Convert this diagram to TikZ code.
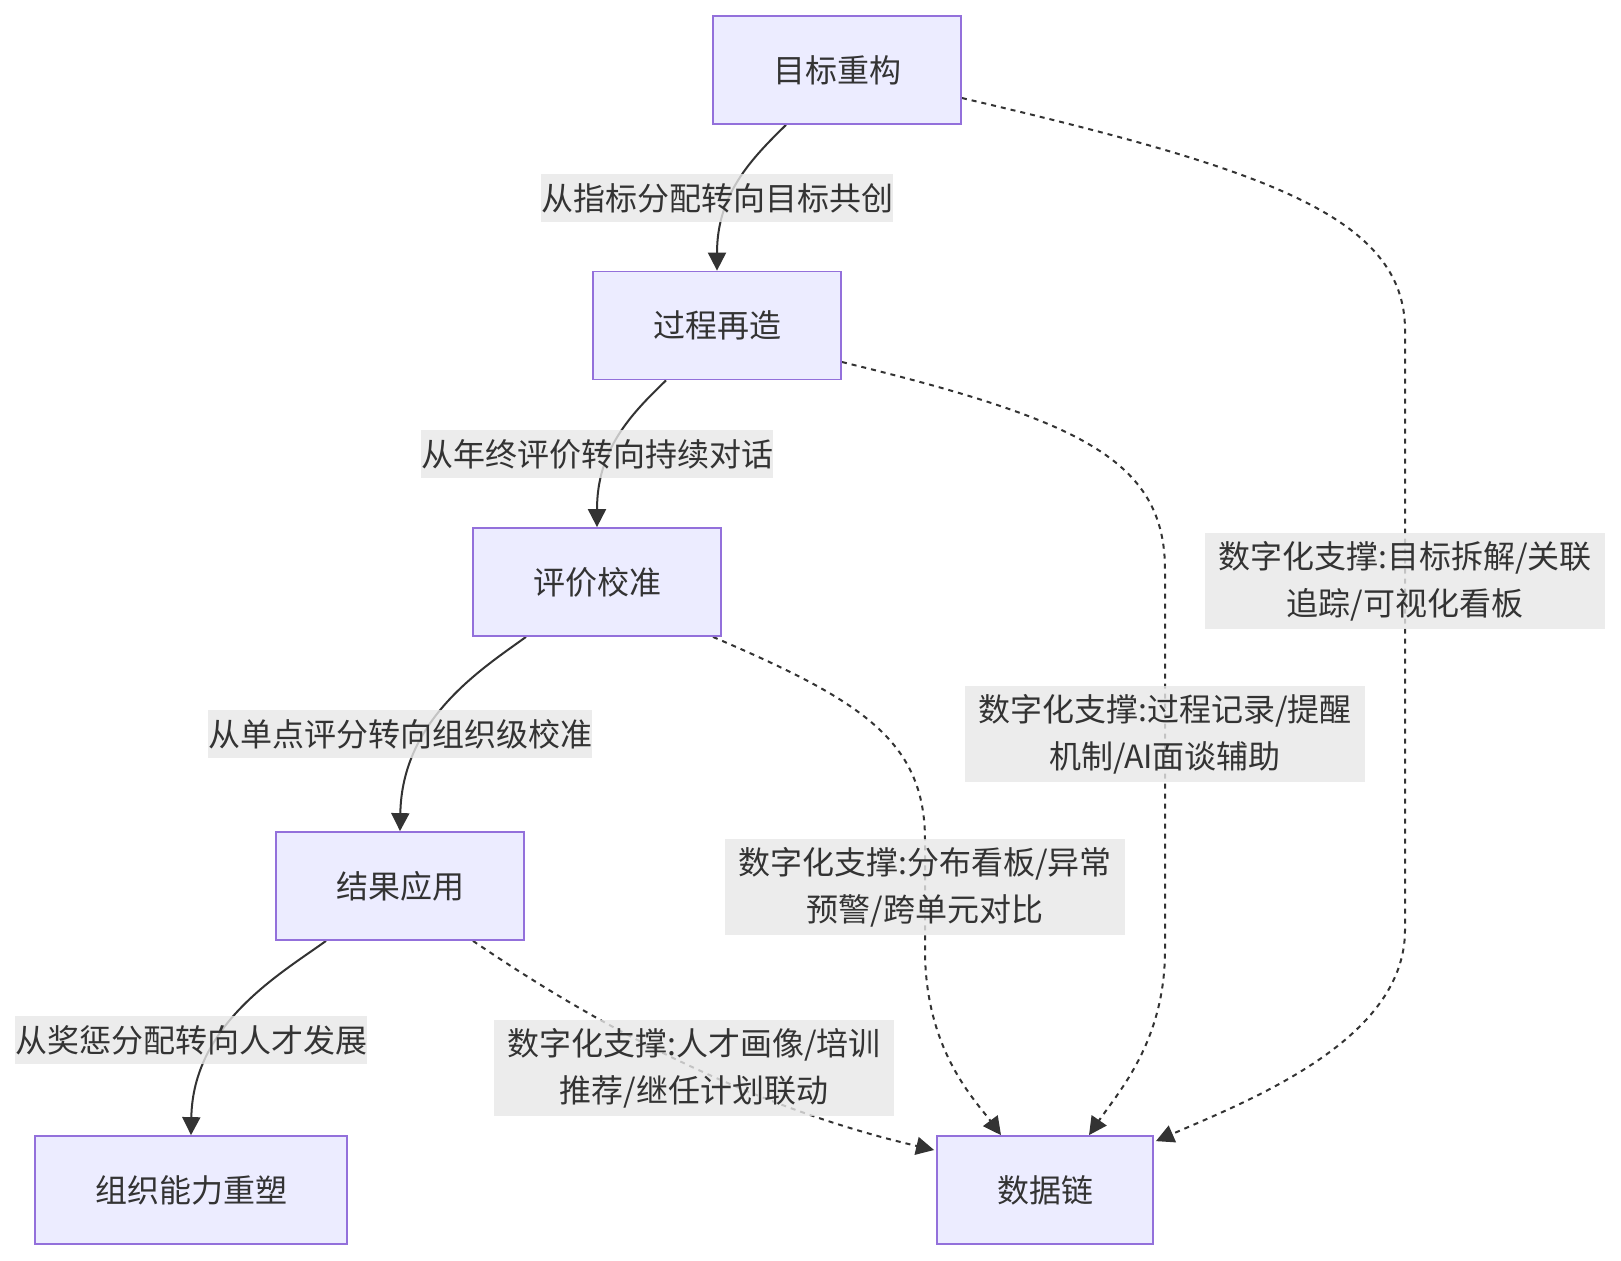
\documentclass[tikz,border=0pt]{standalone}
\usepackage{fontspec}
\setmainfont{Noto Sans CJK SC}
\usetikzlibrary{arrows.meta,calc}
\pgfdeclarelayer{edgelayer}
\pgfsetlayers{edgelayer,main}
\definecolor{nodefill}{HTML}{ECECFF}
\definecolor{nodeborder}{HTML}{9370DB}
\definecolor{ink}{HTML}{333333}
\definecolor{lblbg}{HTML}{E8E8E8}
\begin{document}
\begin{tikzpicture}[x=0.5pt,y=-0.5pt,
  box/.style={draw=nodeborder, line width=0.9pt, fill=nodefill, text=ink,
    font=\fontsize{16pt}{20pt}\selectfont, inner sep=0pt, minimum height=54pt},
  lbl/.style={fill=lblbg, fill opacity=0.8, text opacity=1, text=ink,
    font=\fontsize{16pt}{20pt}\selectfont, inner sep=0pt, minimum height=24pt},
  lbltwo/.style={fill=lblbg, fill opacity=0.8, text opacity=1, text=ink,
    font=\fontsize{16pt}{23.5pt}\selectfont, inner sep=0pt, align=center,
    minimum width=200pt, minimum height=48pt},
  solidedge/.style={draw=ink, line width=1pt, -{Triangle[length=9pt,width=9pt]}},
  dotedge/.style={solidedge, dash pattern=on 2.5pt off 2.5pt}
]
\begin{pgfonlayer}{edgelayer}
\fill[white] (0,0) rectangle (1621,1260);
\end{pgfonlayer}
\useasboundingbox (0,0) rectangle (1621,1260);

% nodes
\node[box, minimum width=124pt] (A) at (837,70) {目标重构};
\node[box, minimum width=124pt] (B) at (717,325.5) {过程再造};
\node[box, minimum width=124pt] (C) at (597,582) {评价校准};
\node[box, minimum width=124pt] (D) at (400,886) {结果应用};
\node[box, minimum width=156pt] (E) at (191,1190) {组织能力重塑};
\node[box, minimum width=108pt] (F) at (1045,1190) {数据链};

\begin{pgfonlayer}{edgelayer}
% solid edges
\draw[solidedge] ($(A.south)+(-51,0)$) .. controls (750,160) and (717,195) .. (B.north);
\draw[solidedge] ($(B.south)+(-51,0)$) .. controls (630,415) and (597,450) .. (C.north);
\draw[solidedge] ($(C.south)+(-71,0)$) .. controls (480,670) and (402,720) .. (D.north);
\draw[solidedge] ($(D.south)+(-74,0)$) .. controls (280,974) and (193,1024) .. (E.north);

% dotted edges
\draw[dotedge] ($(A.east)+(0,28)$) .. controls (1260,168) and (1405,215) .. (1405,330)
  -- (1405,930) .. controls (1405,1040) and (1250,1100) .. ($(F.north east)+(2,6)$);
\draw[dotedge] ($(B.east)+(0,36.5)$) .. controls (1080,420) and (1165,460) .. (1165,570)
  -- (1165,950) .. controls (1165,1040) and (1120,1090) .. ($(F.north)+(44,0)$);
\draw[dotedge] ($(C.south)+(116,0)$) .. controls (860,700) and (925,740) .. (925,840)
  -- (925,950) .. controls (925,1050) and (975,1100) .. ($(F.north)+(-44,0)$);
\draw[dotedge] ($(D.south)+(73,0)$) .. controls (560,1000) and (720,1100) .. ($(F.west)+(-2,-40)$);
\end{pgfonlayer}

% edge labels
\node[lbl] (l1) at (717,198) {从指标分配转向目标共创};
\node[lbl] (l2) at (597,454) {从年终评价转向持续对话};
\node[lbl] (l3) at (400,734) {从单点评分转向组织级校准};
\node[lbl] (l4) at (191,1040) {从奖惩分配转向人才发展};

\node[lbltwo] (m1) at (1405,581) {数字化支撑:目标拆解/关联\\追踪/可视化看板};
\node[lbltwo] (m2) at (1165,734) {数字化支撑:过程记录/提醒\\机制/AI面谈辅助};
\node[lbltwo] (m3) at (925,887) {数字化支撑:分布看板/异常\\预警/跨单元对比};
\node[lbltwo] (m4) at (694,1068) {数字化支撑:人才画像/培训\\推荐/继任计划联动};
\end{tikzpicture}
\end{document}
